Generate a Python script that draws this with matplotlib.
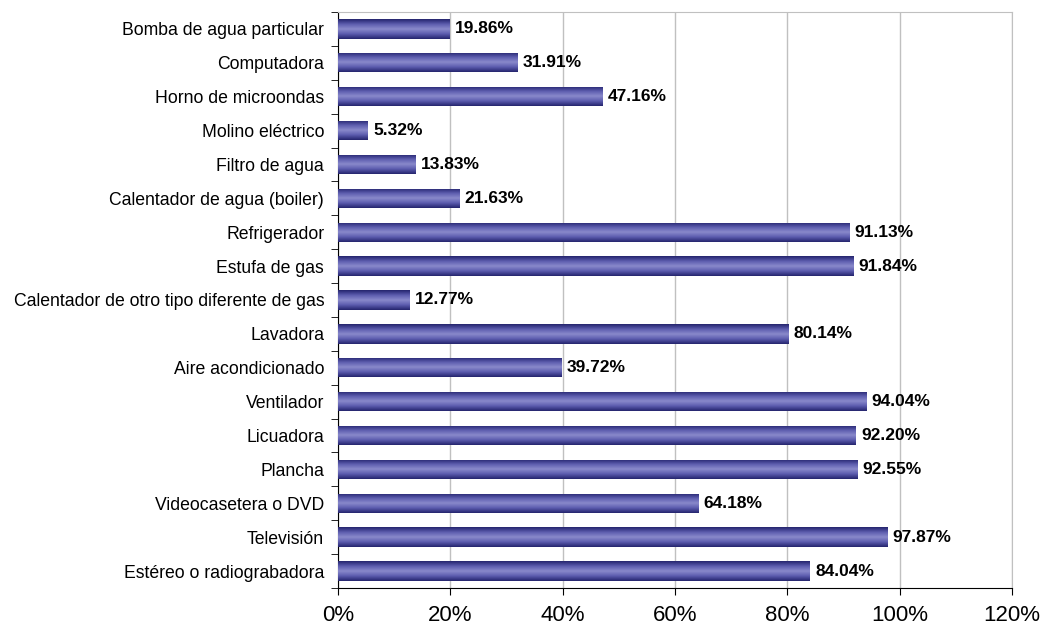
import numpy as np
from matplotlib import pyplot as plt
from matplotlib.colors import LinearSegmentedColormap

categorias = ['Bomba de agua particular', 'Computadora', 'Horno de microondas',
              'Molino eléctrico', 'Filtro de agua', 'Calentador de agua (boiler)',
              'Refrigerador', 'Estufa de gas', 'Calentador de otro tipo diferente de gas',
              'Lavadora', 'Aire acondicionado', 'Ventilador', 'Licuadora', 'Plancha',
              'Videocasetera o DVD', 'Televisión', 'Estéreo o radiograbadora']
valores = [19.86, 31.91, 47.16, 5.32, 13.83, 21.63, 91.13, 91.84, 12.77,
           80.14, 39.72, 94.04, 92.20, 92.55, 64.18, 97.87, 84.04]

plt.rcParams['font.family'] = ['Liberation Sans', 'DejaVu Sans']

fig = plt.figure(figsize=(10.44, 6.3), dpi=100)
ax = fig.add_axes([0.3238, 0.0667, 0.6455, 0.9143])

n = len(categorias)
pos = np.arange(n)[::-1]
alto = 0.57

cmap = LinearSegmentedColormap.from_list('cil', ['#25256e', '#5c5cae', '#8a8acb', '#5c5cae', '#25256e'])
grad = np.linspace(0, 1, 64).reshape(-1, 1)

bars = ax.barh(pos, valores, height=alto, color='none', edgecolor='none', zorder=3)
for b in bars:
    x0, y0 = b.get_x(), b.get_y()
    im = ax.imshow(grad, cmap=cmap, aspect='auto', zorder=3,
                   extent=[x0, x0 + b.get_width(), y0, y0 + b.get_height()])
    im.set_clip_path(b)

for p, v in zip(pos, valores):
    ax.text(v + 0.9, p, f'{v:.2f}%', va='center', ha='left',
            fontsize=12.5, fontweight='bold', zorder=4)

ax.set_xlim(0, 120)
ax.set_ylim(-0.5, n - 0.5)
ax.set_xticks(np.arange(0, 121, 20))
ax.set_xticklabels([f'{t}%' for t in range(0, 121, 20)], fontsize=16)
ax.set_yticks(pos)
ax.set_yticklabels(categorias, fontsize=12.7)
ax.set_yticks(np.arange(-0.5, n, 1), minor=True)
ax.tick_params(axis='y', which='major', length=0, pad=10)
ax.tick_params(axis='y', which='minor', length=5, direction='out')
ax.tick_params(axis='x', length=5, direction='out', pad=7)

ax.grid(axis='x', color='#c0c0c0', linewidth=1, zorder=0)
for s in ['top', 'right']:
    ax.spines[s].set_color('#c0c0c0')
ax.spines['left'].set_color('black')
ax.spines['bottom'].set_color('black')

fig.savefig('out.png', dpi=100)
